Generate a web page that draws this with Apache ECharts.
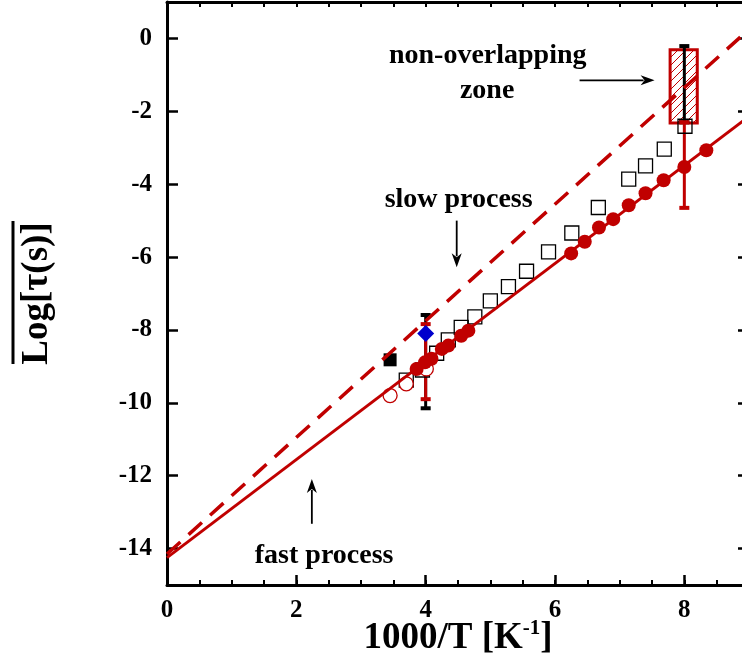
<!DOCTYPE html>
<html><head><meta charset="utf-8">
<script src="https://cdn.jsdelivr.net/npm/echarts@6/dist/echarts.min.js"></script>
<style>html,body{margin:0;padding:0;background:#fff;overflow:hidden;width:742px;height:663px;} #c{width:749px;height:663px;}</style>
</head><body><div id="c"></div>
<script>
// ---- data ----
const fastLineX = [0, 9];
const fastLineY = [-14.25, -2.14];
const slowLineX = [0, 9];
const slowLineY = [-14.15, 0.25];

const filledX = [3.86, 3.99, 4.09, 4.25, 4.35, 4.55, 4.66, 6.25, 6.46, 6.68, 6.90, 7.14, 7.40, 7.68, 8.00, 8.34];
const filledY = [-9.07, -8.89, -8.79, -8.52, -8.43, -8.16, -8.02, -5.90, -5.58, -5.19, -4.96, -4.58, -4.25, -3.89, -3.53, -3.07];

const squareX = [3.70, 3.95, 4.17, 4.35, 4.55, 4.76, 5.00, 5.28, 5.56, 5.90, 6.26, 6.67, 7.14, 7.40, 7.69, 8.01];
const squareY = [-9.38, -9.10, -8.64, -8.27, -7.93, -7.64, -7.20, -6.81, -6.39, -5.86, -5.34, -4.64, -3.86, -3.50, -3.04, -2.41];

const openCircX = [3.45, 3.70, 4.01];
const openCircY = [-9.80, -9.48, -9.07];

const blackSqX = [3.45];
const blackSqY = [-8.82];
const diamondX = [4.0];
const diamondY = [-8.10];

const blackErrX = [4, 8];
const blackErrLow = [-10.15, -2.30];
const blackErrHigh = [-7.59, -0.21];
const redErrX = [4, 8];
const redErrLow = [-9.90, -4.65];
const redErrHigh = [-7.84, -2.30];

const zoneX = [7.78, 8.20];
const zoneY = [-2.32, -0.31];

const annTexts = ['non-overlapping', 'zone', 'slow process', 'fast process'];
const annTextX = [4.96, 4.95, 4.51, 2.43];
const annTextY = [-0.47, -1.43, -4.42, -14.20];

const arrowFromX = [6.38, 4.48, 2.24];
const arrowFromY = [-1.15, -5.00, -13.32];
const arrowToX = [7.54, 4.48, 2.24];
const arrowToY = [-1.15, -6.28, -12.09];

const xTicks = [0, 2, 4, 6, 8];
const yTicks = [-14, -12, -10, -8, -6, -4, -2, 0];

// ---- chart ----
const RED = '#c00000';
const FONT = 'Liberation Serif';
const zip = (a, b) => a.map((v, i) => [v, b[i]]);

const pc = document.createElement('canvas');
pc.width = 8; pc.height = 8;
const g = pc.getContext('2d');
g.strokeStyle = RED; g.lineWidth = 1;
g.beginPath();
g.moveTo(0, 8); g.lineTo(8, 0);
g.moveTo(-1, 1); g.lineTo(1, -1);
g.moveTo(7, 9); g.lineTo(9, 7);
g.stroke();

function errRender(color) {
  return function (params, api) {
    const x = api.value(0), lo = api.value(1), hi = api.value(2);
    const a = api.coord([x, hi]), b = api.coord([x, lo]);
    const c = 5;
    const st = { stroke: color, lineWidth: 3 };
    return { type: 'group', children: [
      { type: 'line', shape: { x1: a[0], y1: a[1], x2: b[0], y2: b[1] }, style: st },
      { type: 'line', shape: { x1: a[0] - c, y1: a[1], x2: a[0] + c, y2: a[1] }, style: { stroke: color, lineWidth: 4 } },
      { type: 'line', shape: { x1: b[0] - c, y1: b[1], x2: b[0] + c, y2: b[1] }, style: { stroke: color, lineWidth: 4 } }
    ] };
  };
}

const labelStyle = { color: '#000', fontFamily: FONT, fontWeight: 'bold', fontSize: 25 };

const option = {
  animation: false,
  backgroundColor: '#fff',
  grid: { left: 167, right: 0, top: 2, bottom: 78, containLabel: false, outerBoundsMode: 'none' },
  graphic: [
    { type: 'line', shape: { x1: 13, y1: 221, x2: 13, y2: 364 }, style: { stroke: '#000', lineWidth: 3 } }
  ],
  xAxis: [
    {
      type: 'value', min: 0, max: 9, interval: 0.5, position: 'bottom',
      axisLine: { show: true, onZero: false, lineStyle: { color: '#000', width: 3 } },
      axisTick: { show: true, inside: true, length: 5, lineStyle: { color: '#000', width: 2 } },
      axisLabel: Object.assign({ margin: 13, customValues: xTicks }, labelStyle),
      splitLine: { show: false },
      name: '{b|1000/T [K}{s|-1}{b|]}',
      nameLocation: 'middle', nameGap: 33, nameMoveOverlap: false,
      nameTextStyle: {
        rich: {
          b: { fontFamily: FONT, fontWeight: 'bold', fontSize: 37, color: '#000' },
          s: { fontFamily: FONT, fontWeight: 'bold', fontSize: 21, color: '#000', padding: [0, 0, 20, 0] }
        }
      }
    },
    {
      type: 'value', min: 0, max: 9, position: 'bottom',
      axisLine: { show: false, onZero: false },
      axisTick: { show: true, inside: true, length: 10, customValues: xTicks, lineStyle: { color: '#000', width: 2.5 } },
      axisLabel: { show: false },
      splitLine: { show: false }
    },
    {
      type: 'value', min: 0, max: 9, interval: 0.5, position: 'top',
      axisLine: { show: true, onZero: false, lineStyle: { color: '#000', width: 3 } },
      axisTick: { show: true, inside: true, length: 5, lineStyle: { color: '#000', width: 2 } },
      axisLabel: { show: false },
      splitLine: { show: false }
    }
  ],
  yAxis: [
    {
      type: 'value', min: -15, max: 1, interval: 1, position: 'left',
      axisLine: { show: true, onZero: false, lineStyle: { color: '#000', width: 3 } },
      axisTick: { show: true, inside: true, length: 11, customValues: yTicks, lineStyle: { color: '#000', width: 2.5 } },
      axisLabel: Object.assign({ margin: 15, customValues: yTicks }, labelStyle),
      splitLine: { show: false },
      name: 'Log[τ(s)]', nameLocation: 'middle', nameRotate: 90, nameGap: 111, nameMoveOverlap: false,
      nameTextStyle: { fontFamily: FONT, fontWeight: 'bold', fontSize: 37, color: '#000' }
    },
    {
      type: 'value', min: -15, max: 1, interval: 1, position: 'right',
      axisLine: { show: true, onZero: false, lineStyle: { color: '#000', width: 3 } },
      axisTick: { show: true, inside: true, length: 11, customValues: yTicks, lineStyle: { color: '#000', width: 2.5 } },
      axisLabel: { show: false },
      splitLine: { show: false }
    }
  ],
  series: [
    { name: 'fast process', type: 'line', data: zip(fastLineX, fastLineY), showSymbol: false,
      lineStyle: { color: RED, width: 3 }, itemStyle: { color: RED }, silent: true },
    { name: 'slow process', type: 'line', data: zip(slowLineX, slowLineY), showSymbol: false,
      lineStyle: { color: RED, width: 3.5, type: [18, 11] }, itemStyle: { color: RED }, silent: true },
    { name: 'zone', type: 'custom', data: [[zoneX[0], zoneX[1], zoneY[0], zoneY[1]]],
      renderItem: function (params, api) {
        const p0 = api.coord([api.value(0), api.value(3)]);
        const p1 = api.coord([api.value(1), api.value(2)]);
        return { type: 'rect', shape: { x: p0[0], y: p0[1], width: p1[0] - p0[0], height: p1[1] - p0[1] },
          style: { fill: { image: pc, repeat: 'repeat' }, stroke: RED, lineWidth: 3 } };
      } },
    { name: 'squares', type: 'scatter', data: zip(squareX, squareY), symbol: 'rect', symbolSize: 14,
      itemStyle: { color: 'rgba(255,255,255,0)', borderColor: '#000', borderWidth: 1.3, opacity: 1 } },
    { name: 'open circles', type: 'scatter', data: zip(openCircX, openCircY), symbol: 'circle', symbolSize: 14,
      itemStyle: { color: '#fff', borderColor: RED, borderWidth: 1.3, opacity: 1 } },
    { name: 'filled circles', type: 'scatter', data: zip(filledX, filledY), symbol: 'circle', symbolSize: 14,
      itemStyle: { color: RED, opacity: 1 } },
    { name: 'black err', type: 'custom', data: blackErrX.map((x, i) => [x, blackErrLow[i], blackErrHigh[i]]),
      encode: { x: 0, y: [1, 2] }, renderItem: errRender('#000') },
    { name: 'red err', type: 'custom', data: redErrX.map((x, i) => [x, redErrLow[i], redErrHigh[i]]),
      encode: { x: 0, y: [1, 2] }, renderItem: errRender(RED) },
    { name: 'black square', type: 'scatter', data: zip(blackSqX, blackSqY), symbol: 'rect', symbolSize: 13,
      itemStyle: { color: '#000', opacity: 1 } },
    { name: 'diamond', type: 'scatter', data: zip(diamondX, diamondY), symbol: 'diamond', symbolSize: 17,
      itemStyle: { color: '#0000cc', opacity: 1 } },
    { name: 'arrows', type: 'custom',
      data: arrowFromX.map((x, i) => [x, arrowFromY[i], arrowToX[i], arrowToY[i]]),
      encode: { x: [0, 2], y: [1, 3] },
      renderItem: function (params, api) {
        const a = api.coord([api.value(0), api.value(1)]);
        const b = api.coord([api.value(2), api.value(3)]);
        const dx = b[0] - a[0], dy = b[1] - a[1];
        const len = Math.sqrt(dx * dx + dy * dy);
        const ux = dx / len, uy = dy / len, nx = -uy, ny = ux;
        const hl = 14, hw = 5;
        const bx = b[0] - ux * hl, by = b[1] - uy * hl;
        return { type: 'group', children: [
          { type: 'line', shape: { x1: a[0], y1: a[1], x2: bx + ux * 3, y2: by + uy * 3 }, style: { stroke: '#000', lineWidth: 1.8 } },
          { type: 'polygon', shape: { points: [[b[0], b[1]], [bx + nx * hw, by + ny * hw], [bx + ux * 4, by + uy * 4], [bx - nx * hw, by - ny * hw]] },
            style: { fill: '#000' } }
        ] };
      } },
    { name: 'labels', type: 'custom',
      data: annTextX.map((x, i) => [x, annTextY[i], i]),
      encode: { x: 0, y: 1 },
      renderItem: function (params, api) {
        const p = api.coord([api.value(0), api.value(1)]);
        return { type: 'text', x: p[0], y: p[1],
          style: { text: annTexts[api.value(2)], fill: '#000', font: 'bold 28px "Liberation Serif"',
            align: 'center', verticalAlign: 'middle', textAlign: 'center', textVerticalAlign: 'middle' } };
      } }
  ]
};

const chart = echarts.init(document.getElementById('c'), null, { renderer: 'canvas' });
chart.setOption(option);
</script>
</body></html>
